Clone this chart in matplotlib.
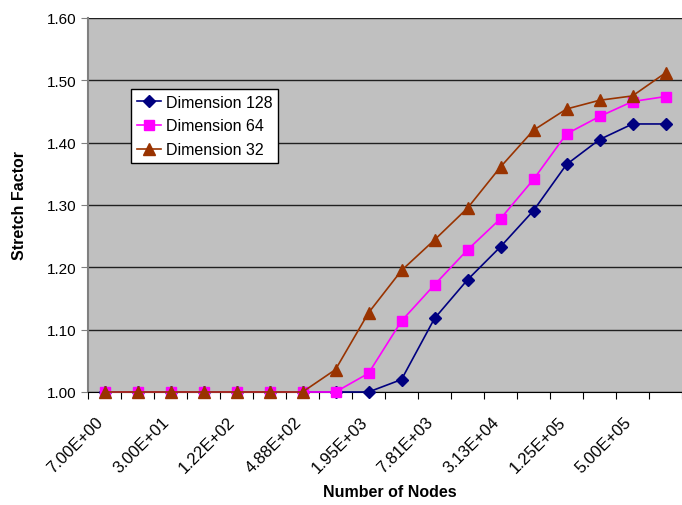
import matplotlib
matplotlib.use("Agg")
import matplotlib.pyplot as plt
import matplotlib.transforms as mtransforms
import numpy as np

plt.rcParams['font.family'] = ['Liberation Sans', 'DejaVu Sans']

# node-count categories, only every other one gets a label
x_labels = ['7.00E+00', '3.00E+01', '1.22E+02', '4.88E+02', '1.95E+03',
            '7.81E+03', '3.13E+04', '1.25E+05', '5.00E+05']
n_cats = 18

# stretch factor per dimension
dim128 = [1.00, 1.00, 1.00, 1.00, 1.00, 1.00, 1.00, 1.00, 1.00,
          1.02, 1.118, 1.18, 1.233, 1.291, 1.365, 1.405, 1.43, 1.43]
dim64 = [1.00, 1.00, 1.00, 1.00, 1.00, 1.00, 1.00, 1.00,
         1.03, 1.114, 1.172, 1.228, 1.278, 1.341, 1.414, 1.442, 1.466, 1.474]
dim32 = [1.00, 1.00, 1.00, 1.00, 1.00, 1.00, 1.00,
         1.036, 1.127, 1.195, 1.244, 1.295, 1.361, 1.42, 1.454, 1.468, 1.475, 1.512]

x = np.arange(n_cats)

fig = plt.figure(figsize=(6.82, 5.06), dpi=100)
ax = fig.add_axes([88/682, 1 - 393/506, 1 - 88/682, (393 - 19)/506])
ax.set_facecolor('#C0C0C0')

ax.plot(x, dim128, color='#000080', marker='D', markersize=6.5, lw=1.2,
        label='Dimension 128', zorder=3, clip_on=False)
ax.plot(x, dim64, color='#FF00FF', marker='s', markersize=7, lw=1.2,
        label='Dimension 64', zorder=3, clip_on=False)
ax.plot(x, dim32, color='#993300', marker='^', markersize=8, lw=1.2,
        label='Dimension 32', zorder=3, clip_on=False)

ax.set_ylim(1.0, 1.6)
yt = np.arange(1.0, 1.61, 0.1)
ax.set_yticks(yt)
ax.set_yticklabels(['%.2f' % v for v in yt], fontsize=11)
ax.yaxis.grid(True, color='#202020', lw=1)
ax.set_axisbelow(True)

# tick marks sit between categories, labels on every second category
ax.set_xlim(-0.5, -0.5 + (682 - 88) / 33.4)
ax.set_xticks(np.arange(-0.5, n_cats, 1.0))
ax.set_xticklabels([])
ax.tick_params(axis='x', length=5, direction='out', color='black')
ax.tick_params(axis='y', length=5, direction='out', color='#808080', pad=3)

lbl_tr = ax.get_xaxis_transform() + mtransforms.ScaledTranslation(-9/100, -22/100, fig.dpi_scale_trans)
for xi, txt in zip(x[::2], x_labels):
    ax.text(xi, 0, txt, transform=lbl_tr, rotation=45, ha='right', va='top',
            rotation_mode='anchor', fontsize=12, clip_on=False)

for side in ['top', 'right']:
    ax.spines[side].set_visible(False)
ax.spines['left'].set_color('#808080')
ax.spines['left'].set_linewidth(1.5)
ax.spines['bottom'].set_color('black')

ax.set_ylabel('Stretch Factor', fontsize=11.5, fontweight='bold')
ax.set_xlabel('Number of Nodes', fontsize=11.5, fontweight='bold')
ax.yaxis.set_label_coords(-(88 - 20) / 594, 0.5)
ax.xaxis.set_label_coords((390 - 88) / 594, -(493 - 393) / 374)
ax.xaxis.label.set_va('center')
ax.yaxis.label.set_va('center')

leg = ax.legend(loc='upper left', bbox_to_anchor=((131 - 88) / 594, 1 - (90 - 19) / 374),
                fontsize=11.5, frameon=True, fancybox=False, edgecolor='black',
                framealpha=1, borderpad=0.35, labelspacing=0.55, handlelength=1.55,
                handletextpad=0.3, borderaxespad=0)
leg.get_frame().set_linewidth(1)

fig.savefig('out.png', dpi=100)
